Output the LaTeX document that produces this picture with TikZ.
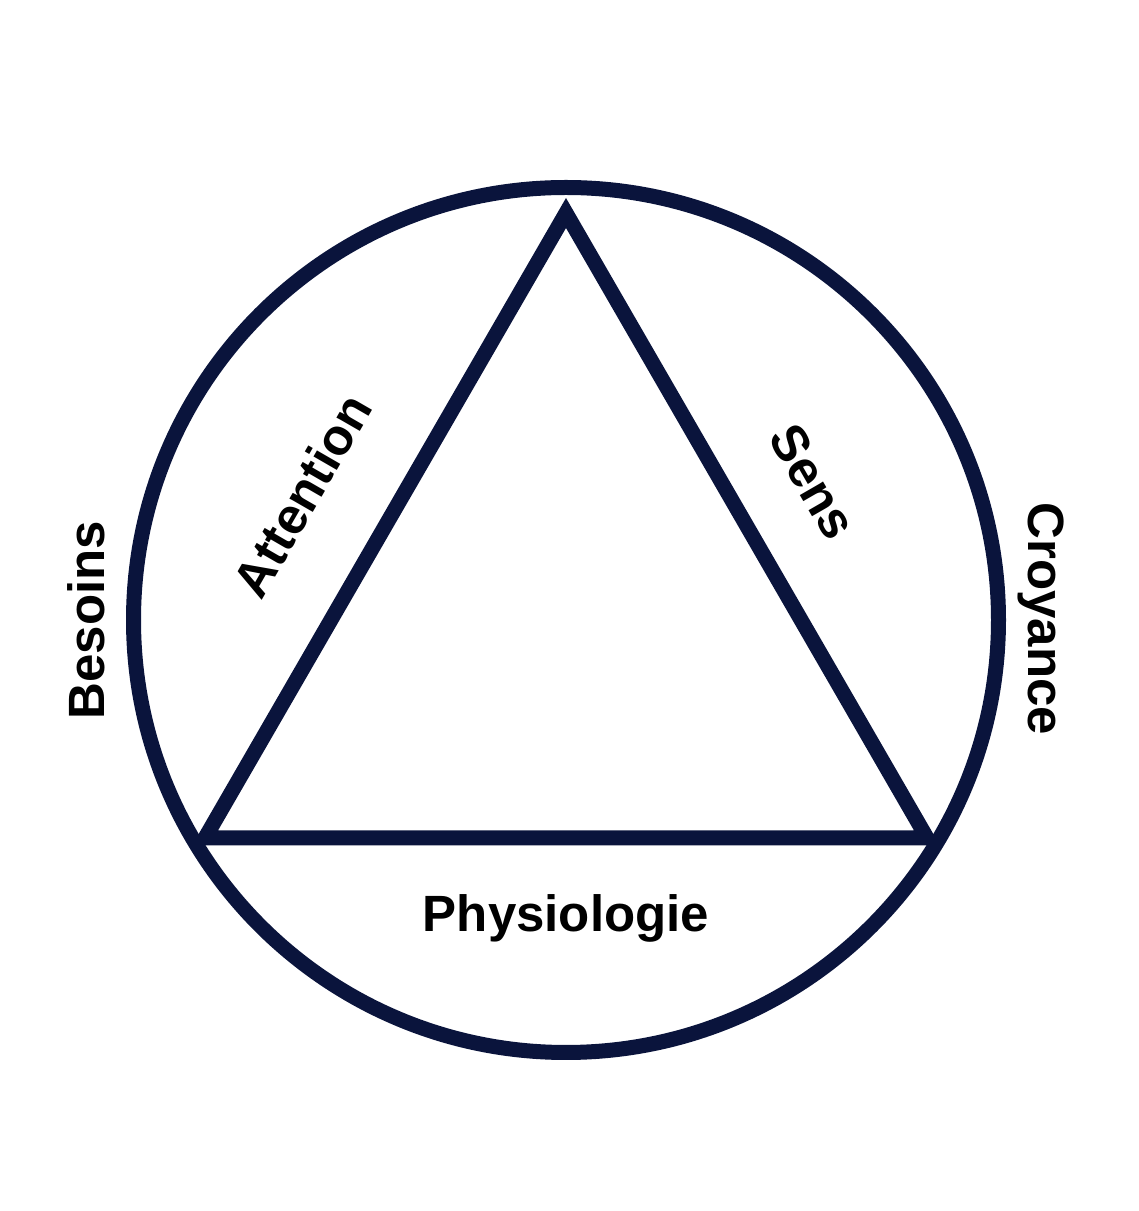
\documentclass[tikz,border=0pt]{standalone}
\usepackage{fontspec}
\setmainfont{Liberation Sans}
\usepackage{xcolor}
\usepackage{tikz}
\usetikzlibrary{positioning}
\definecolor{navy}{RGB}{10,20,60}

\begin{document}
\begin{tikzpicture}[
  x=1pt, y=1pt,
  ring/.style={draw=navy, line width=15pt},
  tri/.style={draw=navy, line width=15pt, line join=miter},
  label/.style={font=\fontsize{51}{60}\selectfont\bfseries, text=black, inner sep=0pt}
]
\useasboundingbox (0,0) rectangle (1139,1211);

% Circle and triangle
\coordinate (center) at (566,591);
\coordinate (top) at (566,998);
\coordinate (left) at (205,373);
\coordinate (right) at (927,373);
\draw [ring] (center) circle (432.5);
\draw [tri] (top) -- (right) -- (left) -- cycle;

% Labels
\node (attention) [label, rotate=60] at (302,716) {Attention};
\node (sens) [label, rotate=-60] at (813,729) {Sens};
\node (besoins) [label, rotate=90] at (86,591) {Besoins};
\node (croyance) [label, rotate=-90] at (1041,592) {Croyance};
\node (physio) [label, anchor=base] at (566,279) {Physiologie};
\end{tikzpicture}
\end{document}
